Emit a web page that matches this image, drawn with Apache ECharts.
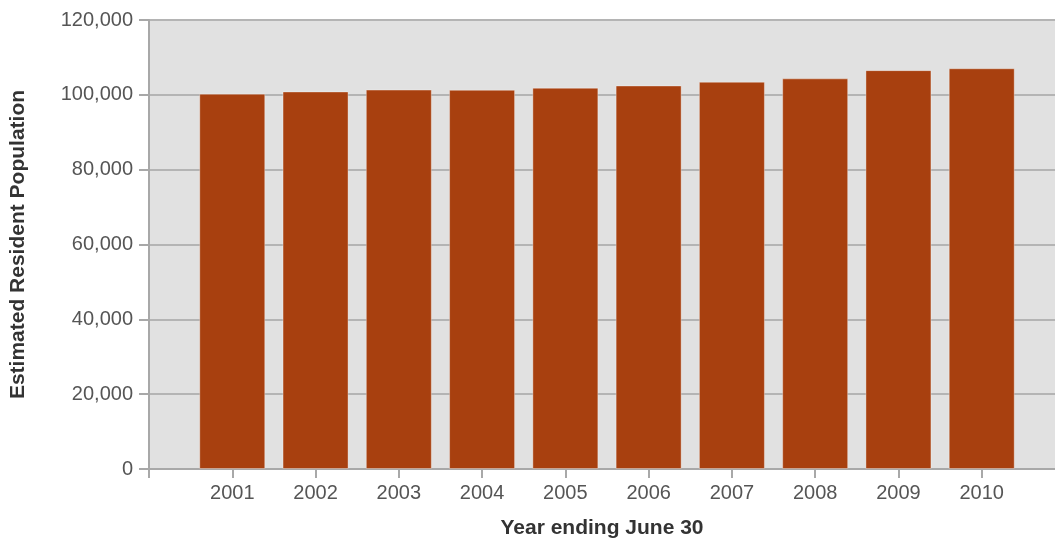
<!DOCTYPE html>
<html>
<head>
<meta charset="utf-8">
<script src="https://cdn.jsdelivr.net/npm/echarts@6/dist/echarts.min.js"></script>
<style>
  html, body { margin: 0; padding: 0; background: #fff; }
  #chart { width: 1055px; height: 544px; }
</style>
</head>
<body>
<div id="chart"></div>
<script>
const years = [2001, 2002, 2003, 2004, 2005, 2006, 2007, 2008, 2009, 2010]
const population = [100300, 100900, 101400, 101350, 101900, 102500, 103500, 104400, 106600, 107100]
const yTicks = [0, 20000, 40000, 60000, 80000, 100000, 120000]

const myChart = echarts.init(document.getElementById('chart'))
myChart.setOption({
  animation: false,
  grid: {
    left: 148,
    right: 0,
    top: 20,
    bottom: 74,
    show: true,
    backgroundColor: '#e1e1e1',
    borderWidth: 0
  },
  xAxis: {
    type: 'value',
    min: 2000,
    max: 2010.88,
    interval: 1,
    name: 'Year ending June 30',
    nameLocation: 'middle',
    nameGap: 49,
    nameTextStyle: {
      fontFamily: 'Liberation Sans',
      fontWeight: 'bold',
      fontSize: 21,
      color: '#333'
    },
    axisLine: { onZero: false, lineStyle: { color: '#a8a8a8', width: 2 } },
    axisTick: {
      length: 9,
      lineStyle: { color: '#a8a8a8', width: 2 },
      interval: (i, v) => Number(v) === Math.round(Number(v))
    },
    splitLine: { show: false },
    axisLabel: {
      margin: 14,
      fontFamily: 'Liberation Sans',
      fontSize: 20,
      color: '#555',
      showMaxLabel: false,
      formatter: v => (years.indexOf(v) >= 0 ? String(v) : '')
    }
  },
  yAxis: {
    type: 'value',
    min: yTicks[0],
    max: yTicks[yTicks.length - 1],
    interval: yTicks[1] - yTicks[0],
    name: 'Estimated Resident Population',
    nameLocation: 'middle',
    nameGap: 120,
    nameTextStyle: {
      fontFamily: 'Liberation Sans',
      fontWeight: 'bold',
      fontSize: 21,
      color: '#333'
    },
    axisLine: { show: true, lineStyle: { color: '#a8a8a8', width: 2 } },
    axisTick: { show: true, length: 10, lineStyle: { color: '#a8a8a8', width: 2 } },
    splitLine: { lineStyle: { color: '#b4b4b4', width: 2 } },
    axisLabel: {
      margin: 16,
      fontFamily: 'Liberation Sans',
      fontSize: 20,
      color: '#555',
      formatter: v => v.toLocaleString('en-US')
    }
  },
  series: [
    {
      name: 'Population',
      type: 'bar',
      barWidth: 66,
      data: years.map((y, i) => [y, population[i]]),
      itemStyle: {
        color: '#a8400f',
        borderColor: 'rgba(255,255,255,0.35)',
        borderWidth: 1
      }
    }
  ]
})
</script>
</body>
</html>
